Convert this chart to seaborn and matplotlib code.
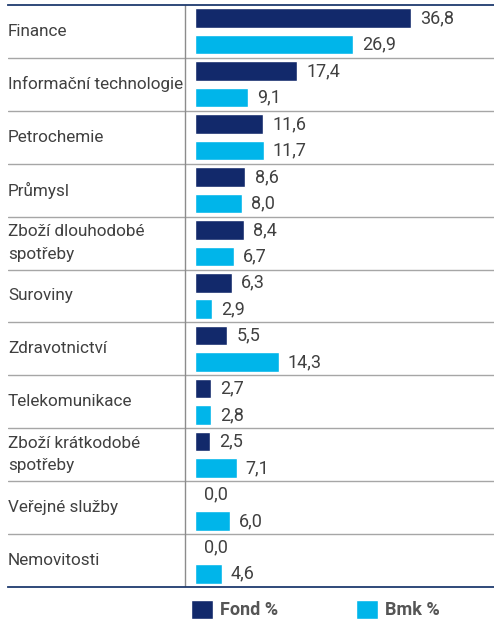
import matplotlib
matplotlib.use("Agg")
import matplotlib.pyplot as plt
import pandas as pd
import seaborn as sns

# Data
categories = [
    "Finance",
    "Informační technologie",
    "Petrochemie",
    "Průmysl",
    "Zboží dlouhodobé\nspotřeby",
    "Suroviny",
    "Zdravotnictví",
    "Telekomunikace",
    "Zboží krátkodobé\nspotřeby",
    "Veřejné služby",
    "Nemovitosti",
]
fond = [36.8, 17.4, 11.6, 8.6, 8.4, 6.3, 5.5, 2.7, 2.5, 0.0, 0.0]
bmk = [26.9, 9.1, 11.7, 8.0, 6.7, 2.9, 14.3, 2.8, 7.1, 6.0, 4.6]
series = ["Fond %", "Bmk %"]
colors = ["#12296b", "#00b5ea"]

df = pd.DataFrame({"sektor": categories * 2,
                   "hodnota": fond + bmk,
                   "serie": [series[0]] * len(fond) + [series[1]] * len(bmk)})

sns.set_style("white")
plt.rcParams["font.family"] = ["Roboto", "DejaVu Sans"]

W, H = 494, 620
fig = plt.figure(figsize=(W / 100, H / 100), dpi=100)
ax = fig.add_axes([8 / W, 1 - 587 / H, 486 / W, 582 / H])

sns.barplot(data=df, y="sektor", x="hodnota", hue="serie", orient="h",
            palette=colors, width=1.0, gap=0.26, saturation=1,
            errorbar=None, ax=ax, legend=True)

# 0 at pixel 195, ~5.87 px per unit
ax.set_xlim(-31.86, 50.94)
ax.set_ylim(len(categories) - 0.5, -0.5)

text_col = "#404040"
for cont in ax.containers:
    labels = [f"{v:.1f}".replace(".", ",") for v in cont.datavalues]
    ax.bar_label(cont, labels=labels, padding=6.5, fontsize=13, color=text_col)

for i, cat in enumerate(categories):
    ax.text(-31.86, i, cat, ha="left", va="center", fontsize=12.3,
            color=text_col, linespacing=1.6)

for i in range(len(categories) - 1):
    ax.axhline(i + 0.5, color="#a6a6a6", lw=1.0, zorder=0)
ax.axvline(-1.7, color="#8c8c8c", lw=1.0, zorder=0)

ax.set_xticks([])
ax.set_yticks([])
ax.set_xlabel("")
ax.set_ylabel("")
for s in ["left", "right"]:
    ax.spines[s].set_visible(False)
for s in ["top", "bottom"]:
    ax.spines[s].set_color("#1f3a6e")
    ax.spines[s].set_linewidth(1.3)

handles, lbls = ax.get_legend_handles_labels()
ax.legend(handles, lbls, loc="upper left", bbox_to_anchor=(191 / W, 1 - 600 / H),
          bbox_transform=fig.transFigure, ncol=2, frameon=False,
          handlelength=1.22, handleheight=1.22, handletextpad=0.38,
          columnspacing=4.3, borderpad=0, borderaxespad=0,
          prop={"weight": "bold", "size": 13}, labelcolor="#555555")

fig.savefig("out.png", dpi=100)
